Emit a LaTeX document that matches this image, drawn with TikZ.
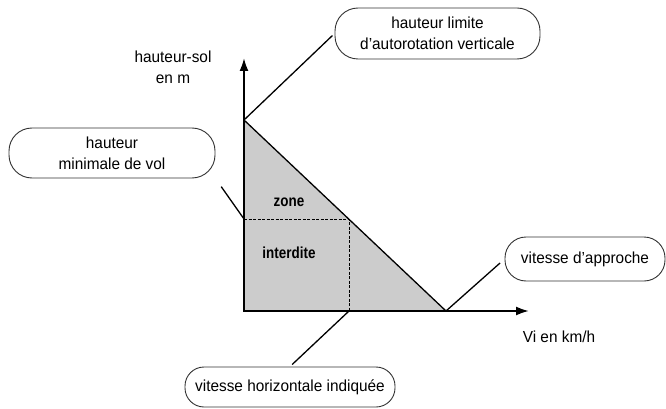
\documentclass[tikz,border=0pt]{standalone}
\usepackage{fontspec}
\setmainfont{Liberation Sans}[FakeStretch=0.96]
\newfontfamily\zonefont{Liberation Sans}[FakeStretch=0.84]
\usetikzlibrary{arrows.meta}
\tikzset{
  bulle/.style={draw=black!80, line width=0.9pt, rounded corners=23pt, fill=white, align=center, inner sep=0pt},
  axe/.style={line width=2pt, {Latex[length=13pt,width=9pt]}-{Latex[length=13pt,width=9pt]}},
  renvoi/.style={line width=1.3pt},
  repere/.style={line width=1pt, dash pattern=on 3pt off 1.5pt},
  gras/.style={font={\zonefont\bfseries\fontsize{16}{21}\selectfont}}
}
\begin{document}
\begin{tikzpicture}[x=1pt,y=-1pt,font=\fontsize{16}{21}\selectfont]
  \useasboundingbox (0,0) rectangle (666,409);
  % points of the diagram
  \coordinate (O) at (244,311);
  \coordinate (A) at (244,120);
  \coordinate (B) at (446,311);
  \coordinate (H) at (244,219);
  \coordinate (P) at (349,219);
  \coordinate (V) at (349,311);
  \coordinate (Ymax) at (244,58);
  \coordinate (Xmax) at (529,311);
  % zone
  \fill[gray!40] (O) -- (A) -- (B) -- cycle;
  \draw[repere] (H) -- (P) -- (V);
  \draw[line width=1.3pt] (A) -- (B);
  \draw[axe] (Ymax) -- (O) -- (Xmax);
  \node[gras] (zone) at (289,202) {zone};
  \node[gras] (interdite) at (289,253) {interdite};
  % axis labels
  \node[align=center] (ordonnee) at (173,67) {hauteur-sol\\en m};
  \node (abscisse) at (559,337) {Vi en km/h};
  % boxes
  \node[bulle, minimum width=205pt, minimum height=51pt] (limite) at (437.5,33.5) {hauteur limite\\d’autorotation verticale};
  \node[bulle, minimum width=206pt, minimum height=50pt] (minimale) at (112,153) {hauteur\\minimale de vol};
  \node[bulle, rounded corners=21pt, minimum width=160pt, minimum height=44pt] (approche) at (585,259) {vitesse d’approche};
  \node[bulle, rounded corners=19pt, minimum width=210pt, minimum height=40pt] (indiquee) at (290,387) {vitesse horizontale indiquée};
  % leaders
  \draw[renvoi, shorten >=3pt] (A) -- (limite.west);
  \draw[renvoi, shorten >=10pt] (H) -- (minimale.south east);
  \draw[renvoi, shorten >=6pt] (B) -- (approche.west);
  \draw[renvoi, shorten >=3pt] (V) -- (indiquee.north);
\end{tikzpicture}
\end{document}
